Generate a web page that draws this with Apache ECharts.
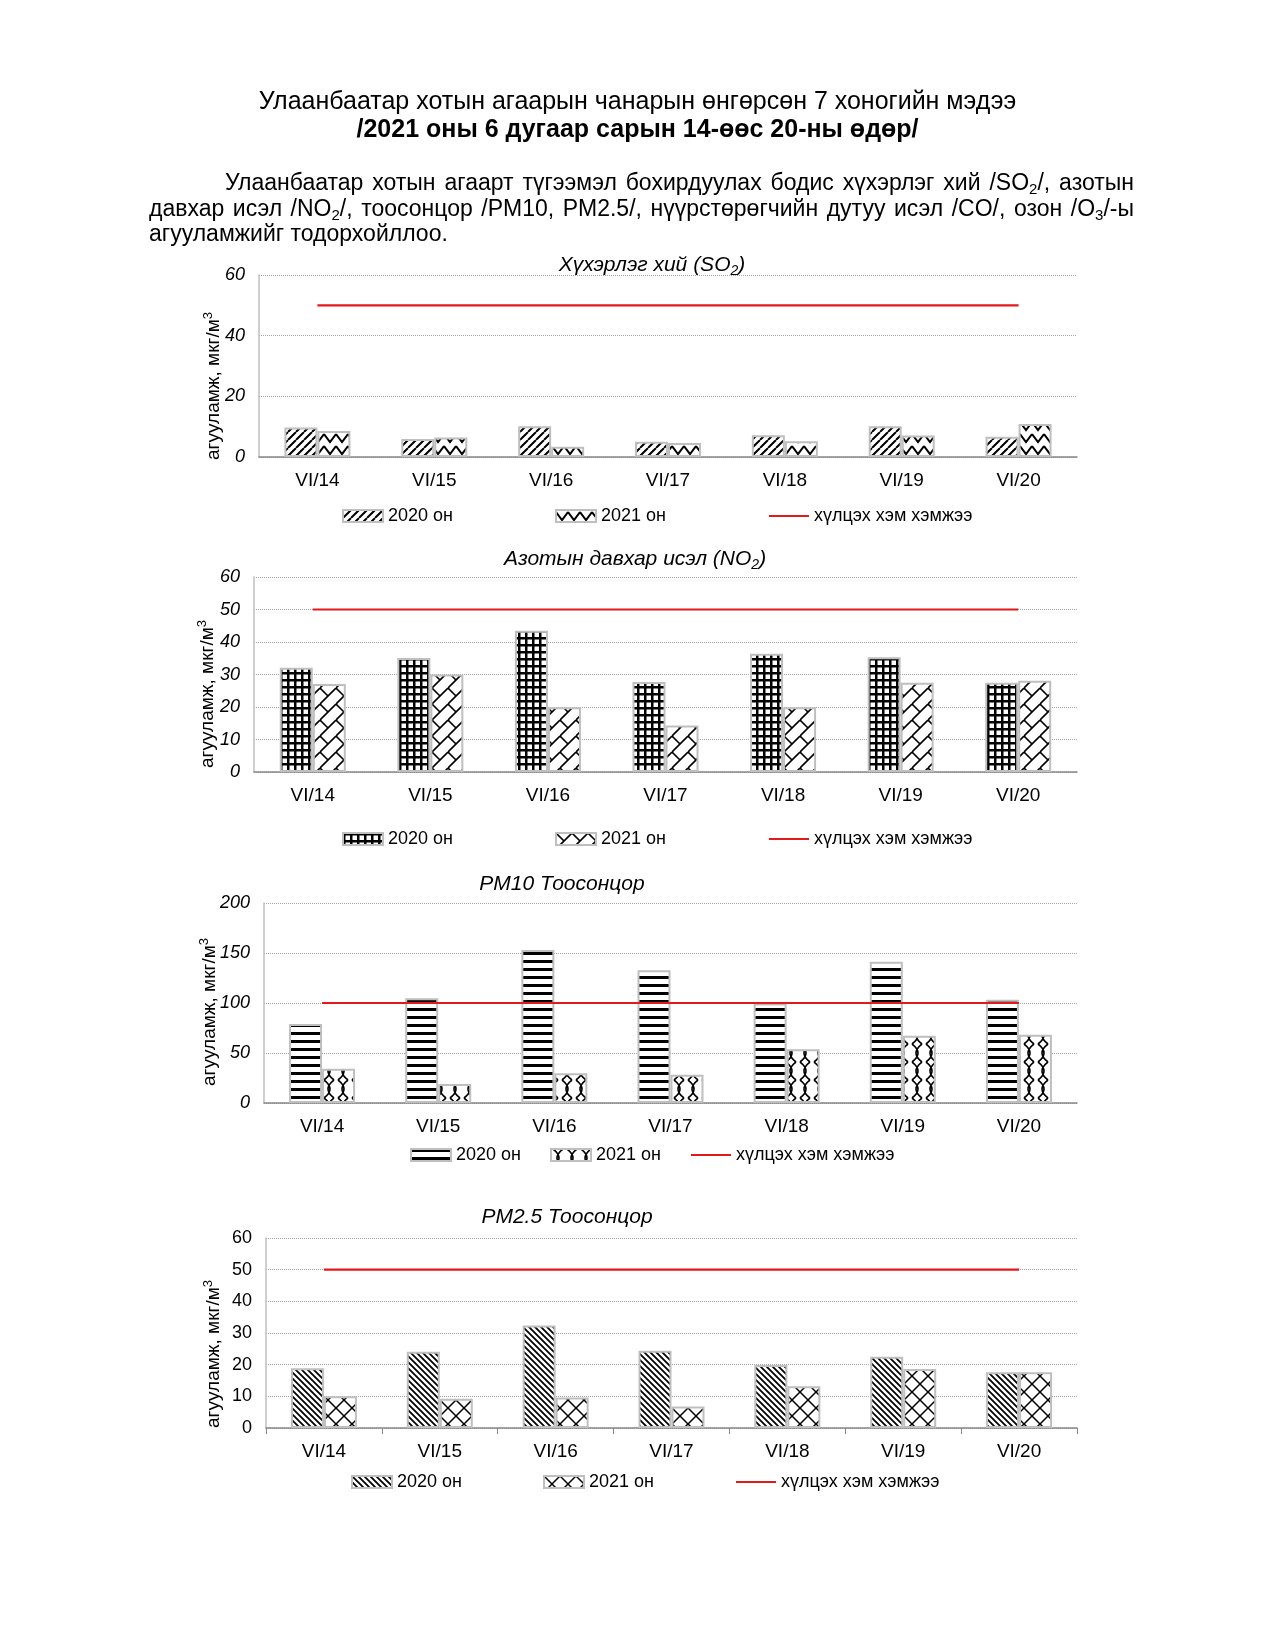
<!DOCTYPE html>
<html><head><meta charset="utf-8">
<script src="https://cdn.jsdelivr.net/npm/echarts@6/dist/echarts.min.js"></script>
<style>
html,body{margin:0;padding:0;background:#fff;}
#wrap{position:relative;width:1275px;height:1650px;overflow:hidden;}
#chart{position:absolute;left:0;top:0;width:1275px;height:1650px;}
.hdr{position:absolute;left:0;top:86px;width:1275px;text-align:center;font-family:"Liberation Sans",Arial,sans-serif;font-size:25px;line-height:28px;color:#000;z-index:2;}
.para{position:absolute;left:149px;width:985px;top:170px;text-align:justify;text-indent:76px;font-family:"Liberation Sans",Arial,sans-serif;font-size:23px;line-height:25.5px;color:#000;z-index:2;}
sub{font-size:15px;vertical-align:-4px;line-height:0;}
</style></head>
<body>
<div id="wrap">
<div id="chart"></div>
<div class="hdr">Улаанбаатар хотын агаарын чанарын өнгөрсөн 7 хоногийн мэдээ<br><b>/2021 оны 6 дугаар сарын 14-өөс 20-ны өдөр/</b></div>
<div class="para">Улаанбаатар хотын агаарт түгээмэл бохирдуулах бодис хүхэрлэг хий /SO<sub>2</sub>/, азотын давхар исэл /NO<sub>2</sub>/, тоосонцор /PM10, PM2.5/, нүүрстөрөгчийн дутуу исэл /CO/, озон /O<sub>3</sub>/-ы агууламжийг тодорхойллоо.</div>
</div>
<script>
const categories = ['VI/14','VI/15','VI/16','VI/17','VI/18','VI/19','VI/20'];
const legendLabels = ['2020 он','2021 он','хүлцэх хэм хэмжээ'];

const so2_2020 = [9.7, 5.9, 10.1, 5.0, 7.2, 10.1, 6.7];
const so2_2021 = [8.6, 6.4, 3.4, 4.6, 5.2, 7.1, 10.9];
const so2_limit = [50, 50, 50, 50, 50, 50, 50];
const so2_ticks = [0, 20, 40, 60];

const no2_2020 = [32.1, 35.1, 43.5, 27.7, 36.4, 35.3, 27.5];
const no2_2021 = [27.1, 30.0, 19.9, 14.3, 19.9, 27.5, 28.1];
const no2_limit = [50, 50, 50, 50, 50, 50, 50];
const no2_ticks = [0, 10, 20, 30, 40, 50, 60];

const pm10_2020 = [79, 104.7, 153, 132.7, 99.5, 141.3, 103.3];
const pm10_2021 = [34.3, 19, 29.7, 28.3, 53.7, 67.3, 68.3];
const pm10_limit = [100, 100, 100, 100, 100, 100, 100];
const pm10_ticks = [0, 50, 100, 150, 200];

const pm25_2020 = [18.9, 24.1, 32.4, 24.4, 19.9, 22.5, 17.6];
const pm25_2021 = [10.0, 9.2, 9.6, 6.8, 13.2, 18.6, 17.6];
const pm25_limit = [50, 50, 50, 50, 50, 50, 50];
const pm25_ticks = [0, 10, 20, 30, 40, 50, 60];

function tile(w, h, draw) {
  const c = document.createElement('canvas');
  c.width = w; c.height = h;
  const g = c.getContext('2d');
  g.fillStyle = '#fff'; g.fillRect(0, 0, w, h);
  g.strokeStyle = '#000'; g.fillStyle = '#000';
  draw(g, w, h);
  return { image: c, repeat: 'repeat' };
}
function lines(g, segs, lw) {
  g.lineWidth = lw; g.beginPath();
  segs.forEach(s => { g.moveTo(s[0], s[1]); g.lineTo(s[2], s[3]); });
  g.stroke();
}
const patUpDiag = tile(8, 8, (g) => lines(g, [[-8,8,0,0],[0,8,8,0],[8,8,16,0]], 2));
const patZigzag = tile(12, 12, (g) => { g.lineWidth = 2; g.beginPath(); g.moveTo(0,2); g.lineTo(6,10); g.lineTo(12,2); g.stroke(); });
const patGrid = tile(7, 7, (g) => { g.fillRect(0,0,7,7); g.fillStyle = '#fff'; g.fillRect(2.5,2.5,4.5,4.5); });
const patTrellis = tile(16, 16, (g) => { lines(g, [[-16,16,0,0],[0,16,16,0],[16,16,32,0]], 1.6); lines(g, [[0,0,8,8]], 1.6); });
const patHoriz = tile(4, 8, (g) => g.fillRect(0, 0, 4, 3));
const patWave = tile(14, 18, (g) => {
  g.lineWidth = 1.6; g.beginPath();
  g.moveTo(2,0); g.quadraticCurveTo(14,9,2,18);
  g.moveTo(12,0); g.quadraticCurveTo(0,9,12,18);
  g.stroke();
});
const patDownDiag = tile(6, 6, (g) => lines(g, [[-6,0,6,12],[0,0,6,6],[0,-6,12,6]], 1.8));
const patDiamond = tile(16, 16, (g) => lines(g, [[0,16,16,0],[-16,16,0,0],[16,16,32,0],[0,0,16,16],[-16,0,0,16],[0,-16,16,0]], 1.5));

const charts = [
  { key:'so2', d20:so2_2020, d21:so2_2021, lim:so2_limit, ticks:so2_ticks, p20:patUpDiag, p21:patZigzag,
    grid:{left:259, top:275, height:182}, italicY:true, xTick:false,
    title:'{i|Хүхэрлэг хий (SO}{s|2}{i|)}', tx:652, ty:265, nx:214, ny:386, lg:{left:342, top:507, gap:102} },
  { key:'no2', d20:no2_2020, d21:no2_2021, lim:no2_limit, ticks:no2_ticks, p20:patGrid, p21:patTrellis,
    grid:{left:254, top:577, height:195}, italicY:true, xTick:false,
    title:'{i|Азотын давхар исэл (NO}{s|2}{i|)}', tx:635, ty:559, nx:208, ny:694, lg:{left:342, top:830, gap:102} },
  { key:'pm10', d20:pm10_2020, d21:pm10_2021, lim:pm10_limit, ticks:pm10_ticks, p20:patHoriz, p21:patWave,
    grid:{left:264, top:903, height:200}, italicY:true, xTick:false,
    title:'{i|PM10 Тоосонцор}', tx:562, ty:884, nx:210, ny:1012, lg:{left:410, top:1146, gap:29} },
  { key:'pm25', d20:pm25_2020, d21:pm25_2021, lim:pm25_limit, ticks:pm25_ticks, p20:patDownDiag, p21:patDiamond,
    grid:{left:266, top:1238, height:190}, italicY:false, xTick:true,
    title:'{i|PM2.5 Тоосонцор}', tx:567, ty:1217, nx:214, ny:1354, lg:{left:351, top:1473, gap:81} }
];

const FONT = '"Liberation Sans", Arial, sans-serif';
const grid = [], xAxis = [], yAxis = [], series = [], legend = [], graphic = [];
const nameMap = {};
charts.forEach((c, i) => {
  grid.push({ left: c.grid.left, right: 198, top: c.grid.top, height: c.grid.height, containLabel: false });
  xAxis.push({
    type: 'category', gridIndex: i, data: categories, boundaryGap: true,
    axisLine: { show: true, lineStyle: { color: '#888', width: 1.5 } },
    axisTick: { show: c.xTick, length: 6, lineStyle: { color: '#888' } },
    axisLabel: { color: '#000', fontSize: 19, fontFamily: FONT, margin: 14 },
    splitLine: { show: false }
  });
  const t = c.ticks;
  yAxis.push({
    type: 'value', gridIndex: i, min: t[0], max: t[t.length - 1], interval: t[1] - t[0],
    axisLine: { show: true, lineStyle: { color: '#bfbfbf', width: 1.5 } },
    axisTick: { show: false },
    axisLabel: { color: '#000', fontSize: 18, fontFamily: FONT, fontStyle: c.italicY ? 'italic' : 'normal', margin: 14 },
    splitLine: { show: true, lineStyle: { color: '#a6a6a6', type: 'dotted', width: 1 } }
  });
  const n20 = c.key + '_2020', n21 = c.key + '_2021', nl = c.key + '_lim';
  nameMap[n20] = legendLabels[0]; nameMap[n21] = legendLabels[1]; nameMap[nl] = legendLabels[2];
  const barStyle = (p) => ({ color: p, borderColor: '#bfbfbf', borderWidth: 2 });
  series.push({ name: n20, type: 'bar', xAxisIndex: i, yAxisIndex: i, data: c.d20, barWidth: 33, barGap: '0%', itemStyle: barStyle(c.p20), z: 2 });
  series.push({ name: n21, type: 'bar', xAxisIndex: i, yAxisIndex: i, data: c.d21, barWidth: 33, barGap: '0%', itemStyle: barStyle(c.p21), z: 2 });
  series.push({ name: nl, type: 'line', xAxisIndex: i, yAxisIndex: i, data: c.lim, symbol: 'none', lineStyle: { color: '#e3191c', width: 2.2 }, itemStyle: { color: '#e3191c' }, z: 5 });
  legend.push({
    left: c.lg.left, top: c.lg.top, padding: 0, itemGap: c.lg.gap, itemWidth: 40, itemHeight: 12,
    selectedMode: false,
    data: [{ name: n20, icon: 'rect' }, { name: n21, icon: 'rect' }, { name: nl, itemStyle: { opacity: 0 } }],
    formatter: (name) => nameMap[name],
    textStyle: { color: '#000', fontSize: 18, fontFamily: FONT, padding: [0, 0, 0, 0] },
    itemTextGap: 5
  });
  graphic.push({
    type: 'text', x: c.tx, y: c.ty,
    style: {
      text: c.title, align: 'center', verticalAlign: 'middle',
      rich: {
        i: { fontSize: 21, fontStyle: 'italic', fontFamily: FONT, fill: '#000', lineHeight: 26, verticalAlign: 'middle' },
        s: { fontSize: 14, fontStyle: 'italic', fontFamily: FONT, fill: '#000', lineHeight: 15, verticalAlign: 'bottom' }
      }
    }
  });
  graphic.push({
    type: 'text', x: c.nx, y: c.ny, rotation: Math.PI / 2,
    style: {
      text: '{n|агууламж, мкг/м}{p|3}', align: 'center', verticalAlign: 'middle',
      rich: {
        n: { fontSize: 19, fontFamily: FONT, fill: '#000', lineHeight: 24, verticalAlign: 'middle' },
        p: { fontSize: 13, fontFamily: FONT, fill: '#000', lineHeight: 13, verticalAlign: 'top' }
      }
    }
  });
});

const chart = echarts.init(document.getElementById('chart'), null, { renderer: 'canvas' });
chart.setOption({
  backgroundColor: '#fff', animation: false,
  grid, xAxis, yAxis, series, legend, graphic
});
</script>
</body></html>
